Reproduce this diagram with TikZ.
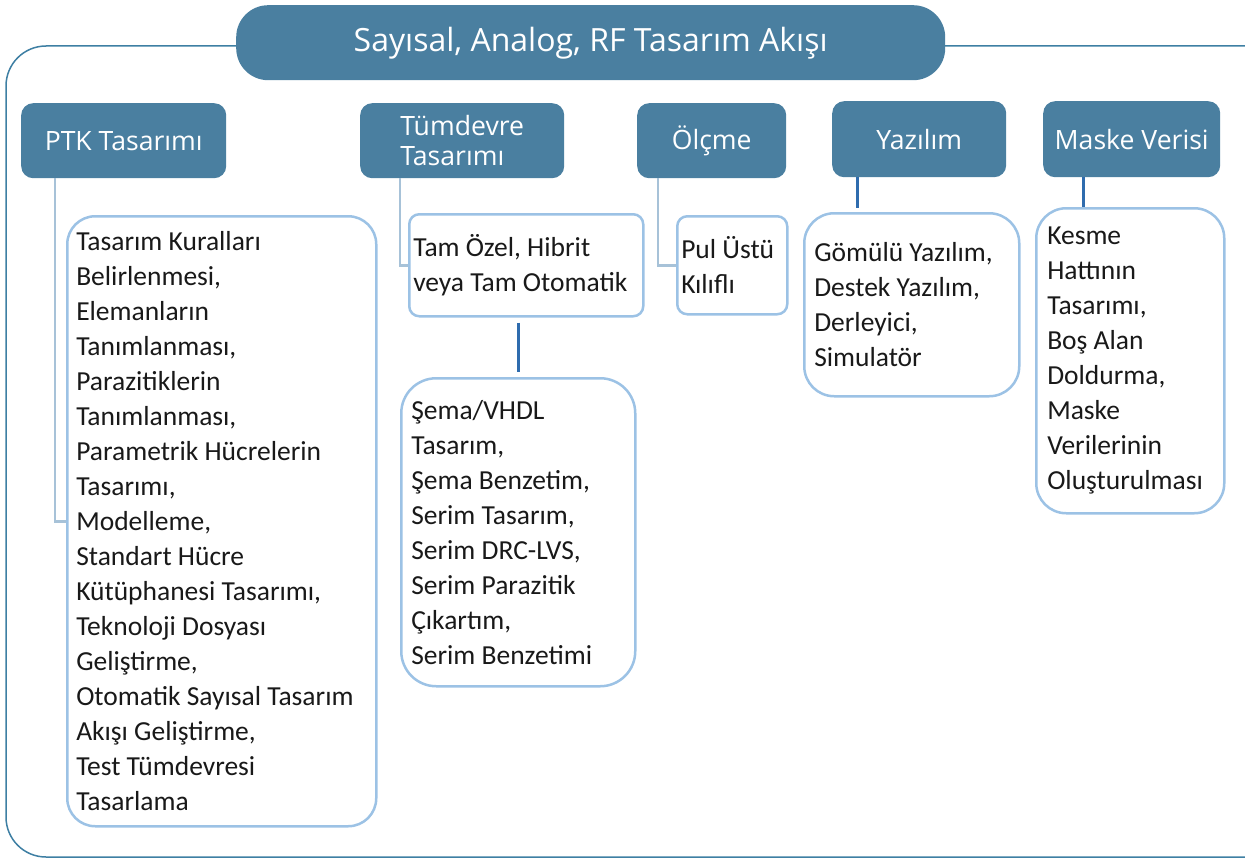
\documentclass[tikz,border=0pt]{standalone}
\usepackage{fontspec}
\setmainfont{Open Sans}
\newfontfamily\calibri{Carlito}
\usetikzlibrary{positioning}

\definecolor{headblue}{HTML}{4A7FA0}
\definecolor{framecol}{HTML}{3E7FA3}
\definecolor{boxline}{HTML}{9CC2E5}
\definecolor{elbowcol}{HTML}{A7C2D8}
\definecolor{linkcol}{HTML}{2F6CAE}

\begin{document}
\begin{tikzpicture}
	[x=1pt,y=-1pt,
	head/.style={fill=headblue,rounded corners=12pt,text=white,font=\fontsize{26.6}{30}\selectfont,align=left,anchor=north west},
	body/.style={draw=boxline,line width=2.5pt,fill=white,font=\calibri\fontsize{27.5}{35}\selectfont,text=black!90,align=flush left,anchor=north west},
	elbow/.style={draw=elbowcol,line width=2.5pt},
	link/.style={draw=linkcol,line width=3pt}]
	\useasboundingbox (0,0) rectangle (1245,859);
	\draw[framecol,line width=1.5pt,rounded corners=40pt] (6,46) rectangle (1290,857);

	\node[head,rounded corners=32pt,font=\fontsize{32}{36}\selectfont,minimum width=709pt,minimum height=75pt] (title) at (236,5) {Sayısal, Analog, RF Tasarım Akışı};

	\node[head,minimum width=205pt,minimum height=75pt] (ptk) at (21,103) {PTK Tasarımı};
	\node[head,minimum width=204pt,minimum height=75pt] (tum) at (360,103) {Tümdevre\\Tasarımı};
	\node[head,minimum width=149pt,minimum height=75pt] (olc) at (637,103) {Ölçme};
	\node[head,minimum width=174pt,minimum height=76pt] (yaz) at (832,101) {Yazılım};
	\node[head,minimum width=177pt,minimum height=76pt] (msk) at (1043,101) {Maske Verisi};

	\node[body,rounded corners=28pt,inner xsep=9pt,text width=291pt,minimum height=610pt] (ptkc) at (66,215)
	{Tasarım Kuralları\\Belirlenmesi,\\Elemanların\\Tanımlanması,\\Parazitiklerin\\Tanımlanması,\\Parametrik Hücrelerin\\Tasarımı,\\Modelleme,\\Standart Hücre\\Kütüphanesi Tasarımı,\\Teknoloji Dosyası\\Geliştirme,\\Otomatik Sayısal Tasarım\\Akışı Geliştirme,\\Test Tümdevresi\\Tasarlama};
	\node[body,rounded corners=10pt,inner xsep=4pt,text width=226pt,minimum height=102pt] (tc1) at (408,213)
	{Tam Özel, Hibrit\\veya Tam Otomatik};
	\node[body,rounded corners=35pt,inner xsep=10pt,text width=214pt,minimum height=308pt] (tc2) at (400,377)
	{Şema/VHDL\\Tasarım,\\Şema Benzetim,\\Serim Tasarım,\\Serim DRC-LVS,\\Serim Parazitik\\Çıkartım,\\Serim Benzetimi};
	\node[body,rounded corners=10pt,inner xsep=4pt,text width=102pt,minimum height=98pt] (olcc) at (676,215)
	{Pul Üstü\\Kılıflı};
	\node[body,rounded corners=30pt,inner xsep=10pt,text width=195pt,minimum height=183pt] (yzc) at (803,212)
	{Gömülü Yazılım,\\Destek Yazılım,\\Derleyici,\\Simulatör};
	\node[body,rounded corners=30pt,inner xsep=11pt,text width=166pt,minimum height=305pt] (mskc) at (1035,207)
	{Kesme\\Hattının\\Tasarımı,\\Boş Alan\\Doldurma,\\Maske\\Verilerinin\\Oluşturulması};

	\foreach \h/\b/\dx in {ptk/ptkc/34, tum/tc1/40, olc/olcc/21}
	\draw[elbow] ([xshift=\dx pt]\h.south west) |- (\b.west);
	\draw[link,shorten <=5pt,shorten >=5pt] (tc2.north |- tc1.south) -- (tc2.north);
	\draw[link,shorten >=4pt] ([xshift=54pt]yzc.north west |- yaz.south) -- ([xshift=54pt]yzc.north west);
	\draw[link] ([xshift=48pt]mskc.north west |- msk.south) -- ([xshift=48pt]mskc.north west);
\end{tikzpicture}
\end{document}
